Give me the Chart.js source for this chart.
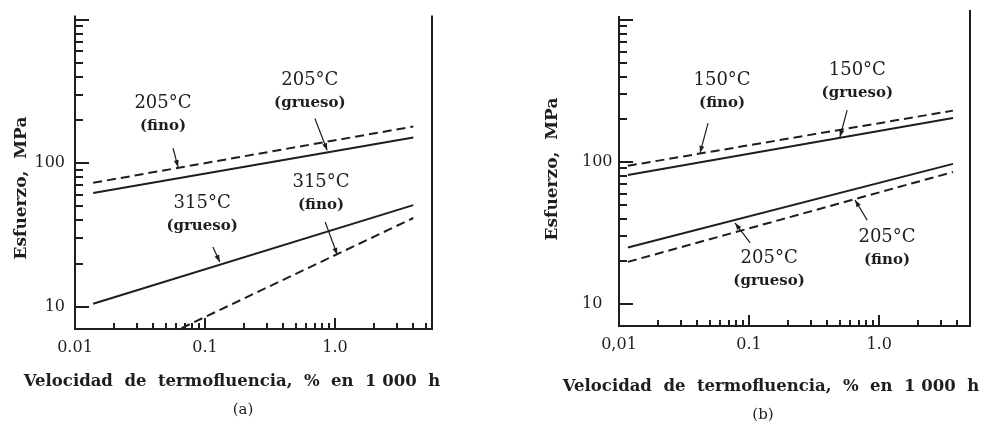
<!DOCTYPE html>
<html>
<head>
<meta charset="utf-8">
<script src="https://cdn.jsdelivr.net/npm/chart.js@4.4.0/dist/chart.umd.min.js"></script>
<style>
  body { margin: 0; background: #fff; }
  #wrap { position: relative; width: 987px; height: 432px; }
  canvas { position: absolute; top: 0; }
</style>
</head>
<body>
<div id="wrap">
  <canvas id="chartA" width="493" height="432" style="left:0"></canvas>
  <canvas id="chartB" width="494" height="432" style="left:493px"></canvas>
</div>
<script>
// Data (creep rate % / 1000 h vs stress MPa)

// panel (a)
var ratesA = [0.0138, 4.0];
var fino205A = [73, 180];
var grueso205A = [62, 151];
var grueso315A = [10.5, 51];
var ratesFino315A = [0.066, 4.0];
var fino315A = [7.1, 41.5];

// panel (b)
var ratesB = [0.0117, 3.7];
var fino150B = [94, 230];
var grueso150B = [81, 204];
var grueso205B = [25, 97];
var fino205B = [19.8, 85];

// tick labels
var xTickValues = [0.01, 0.1, 1];
var xTickTextA = ['0.01', '0.1', '1.0'];
var xTickTextB = ['0,01', '0.1', '1.0'];
var yTickValues = [10, 100];
var yTickText = ['10', '100'];

var ink = '#1e1e1e';
var serif = "'DejaVu Serif', serif";

// labels with arrows, anchored in data units
var notesA = [
  { lines: ['205°C', '(fino)'], at: [0.0475, 261], from: [0.0568, 127], to: [0.062, 94] },
  { lines: ['205°C', '(grueso)'], at: [0.64, 377], from: [0.70, 205], to: [0.87, 123] },
  { lines: ['315°C', '(grueso)'], at: [0.095, 52.7], from: [0.115, 26.1], to: [0.13, 20.5] },
  { lines: ['315°C', '(fino)'], at: [0.78, 73.8], from: [0.84, 38.9], to: [1.04, 23] }
];
var notesB = [
  { lines: ['150°C', '(fino)'], at: [0.062, 378], from: [0.0484, 188], to: [0.042, 116] },
  { lines: ['150°C', '(grueso)'], at: [0.68, 444], from: [0.568, 232], to: [0.50, 150] },
  { lines: ['205°C', '(grueso)'], at: [0.1426, 21.1], from: [0.102, 26.9], to: [0.078, 37.2] },
  { lines: ['205°C', '(fino)'], at: [1.15, 29.6], from: [0.81, 39], to: [0.653, 54] }
];

function pts(xs, ys) {
  return ys.map(function (y, i) { return { x: xs[i], y: y }; });
}

function line(xs, ys, dashed) {
  return {
    data: pts(xs, ys),
    showLine: true,
    borderColor: ink,
    borderWidth: 2,
    borderDash: dashed ? [9, 5] : [],
    pointRadius: 0
  };
}

// 1..9 x 10^n tick marks inside [lo, hi]
function logTicks(lo, hi) {
  var out = [];
  for (var e = Math.floor(Math.log10(lo)); e <= Math.ceil(Math.log10(hi)); e++) {
    for (var m = 1; m < 10; m++) {
      var v = parseFloat((m * Math.pow(10, e)).toPrecision(6));
      if (v >= lo * 0.9999 && v <= hi * 1.0001) out.push({ value: v });
    }
  }
  return out;
}

function isDecade(v) {
  var l = Math.log10(v);
  return Math.abs(l - Math.round(l)) < 1e-6;
}

function pickLabel(v, values, texts) {
  for (var i = 0; i < values.length; i++) {
    if (Math.abs(v - values[i]) / values[i] < 1e-6) return texts[i];
  }
  return '';
}

function seg(ctx, x1, y1, x2, y2) {
  ctx.beginPath();
  ctx.moveTo(x1, y1);
  ctx.lineTo(x2, y2);
  ctx.stroke();
}

function framePlugin(opt) {
  return {
    id: 'frame',
    afterDraw: function (chart) {
      var ctx = chart.ctx, ca = chart.chartArea;
      var xs = chart.scales.x, ys = chart.scales.y;
      ctx.save();
      ctx.strokeStyle = ink;
      ctx.fillStyle = ink;

      // frame bits
      ctx.lineWidth = 2;
      seg(ctx, ca.right, ca.top - opt.over, ca.right, ca.bottom);
      seg(ctx, ca.left, ca.top - 4, ca.left, ca.top);

      // inward ticks
      ctx.lineWidth = 2;
      xs.ticks.forEach(function (t) {
        if (t.value <= xs.min * 1.0001 || t.value >= xs.max * 0.99) return;
        var px = Math.round(xs.getPixelForValue(t.value));
        seg(ctx, px, ca.bottom, px, ca.bottom - (isDecade(t.value) ? 11 : 6));
      });
      ys.ticks.forEach(function (t) {
        var py = Math.round(ys.getPixelForValue(t.value));
        seg(ctx, ca.left, py, ca.left + (isDecade(t.value) ? 14 : 8), py);
      });

      // notes with arrows
      opt.notes.forEach(function (n) {
        var tx = xs.getPixelForValue(n.at[0]), ty = ys.getPixelForValue(n.at[1]);
        ctx.textAlign = 'center';
        ctx.textBaseline = 'middle';
        ctx.font = '18px ' + serif;
        ctx.fillText(n.lines[0], tx, ty);
        ctx.font = 'bold 15px ' + serif;
        ctx.fillText(n.lines[1], tx, ty + 23);

        var x1 = xs.getPixelForValue(n.from[0]), y1 = ys.getPixelForValue(n.from[1]);
        var x2 = xs.getPixelForValue(n.to[0]), y2 = ys.getPixelForValue(n.to[1]);
        ctx.lineWidth = 1.2;
        seg(ctx, x1, y1, x2, y2);
        var a = Math.atan2(y2 - y1, x2 - x1);
        ctx.beginPath();
        ctx.moveTo(x2, y2);
        ctx.lineTo(x2 - 7 * Math.cos(a) + 2.5 * Math.sin(a), y2 - 7 * Math.sin(a) - 2.5 * Math.cos(a));
        ctx.lineTo(x2 - 7 * Math.cos(a) - 2.5 * Math.sin(a), y2 - 7 * Math.sin(a) + 2.5 * Math.cos(a));
        ctx.closePath();
        ctx.fill();
      });

      // axis titles and panel letter
      ctx.textAlign = 'center';
      ctx.textBaseline = 'middle';
      ctx.font = 'bold 16.5px ' + serif;
      ctx.fillText('Velocidad  de  termofluencia,  %  en  1 000  h', opt.xTitle[0], opt.xTitle[1]);
      ctx.font = '15px ' + serif;
      ctx.fillText(opt.letter, opt.letterAt[0], opt.letterAt[1]);
      ctx.save();
      ctx.translate(opt.yTitle[0], opt.yTitle[1]);
      ctx.rotate(-Math.PI / 2);
      ctx.font = 'bold 17px ' + serif;
      ctx.fillText('Esfuerzo,  MPa', 0, 0);
      ctx.restore();

      ctx.restore();
    }
  };
}

function logChart(id, datasets, opt) {
  return new Chart(document.getElementById(id), {
    type: 'scatter',
    data: { datasets: datasets },
    options: {
      responsive: false,
      animation: false,
      layout: { padding: opt.padding },
      plugins: { legend: { display: false }, tooltip: { enabled: false } },
      scales: {
        x: {
          type: 'logarithmic',
          min: 0.01,
          max: opt.xMax,
          grid: { display: false, drawTicks: false },
          border: { color: ink, width: 2 },
          ticks: {
            autoSkip: false,
            maxRotation: 0,
            padding: 9,
            color: ink,
            font: { family: serif, size: 16 },
            callback: function (v) { return pickLabel(v, xTickValues, opt.xText); }
          },
          afterBuildTicks: function (s) { s.ticks = logTicks(0.01, opt.xMax); },
          afterFit: function (s) { s.height = opt.xHeight; }
        },
        y: {
          type: 'logarithmic',
          min: 7,
          max: 1000,
          grid: { display: false, drawTicks: false },
          border: { color: ink, width: 2 },
          ticks: {
            autoSkip: false,
            padding: opt.yPad,
            crossAlign: opt.yAlign,
            color: ink,
            font: { family: serif, size: 16 },
            callback: function (v) { return pickLabel(v, yTickValues, yTickText); }
          },
          afterBuildTicks: function (s) { s.ticks = logTicks(10, 1000); },
          afterFit: function (s) { s.width = opt.yWidth; }
        }
      }
    },
    plugins: [framePlugin(opt)]
  });
}

logChart('chartA', [
  line(ratesA, fino205A, true),
  line(ratesA, grueso205A, false),
  line(ratesA, grueso315A, false),
  line(ratesFino315A, fino315A, true)
], {
  padding: { top: 19, right: 61, bottom: 0, left: 0 },
  xMax: 5.57, xHeight: 103, yWidth: 75, yPad: 10, yAlign: 'near',
  xText: xTickTextA, notes: notesA, over: 4,
  xTitle: [232, 382], yTitle: [22, 188], letter: '(a)', letterAt: [243, 410]
});

logChart('chartB', [
  line(ratesB, fino150B, true),
  line(ratesB, grueso150B, false),
  line(ratesB, grueso205B, false),
  line(ratesB, fino205B, true)
], {
  padding: { top: 20, right: 17, bottom: 0, left: 89 },
  xMax: 5.0, xHeight: 106, yWidth: 37, yPad: 6, yAlign: 'far',
  xText: xTickTextB, notes: notesB, over: 10,
  xTitle: [278, 387], yTitle: [60, 169], letter: '(b)', letterAt: [270, 415]
});
</script>
</body>
</html>
